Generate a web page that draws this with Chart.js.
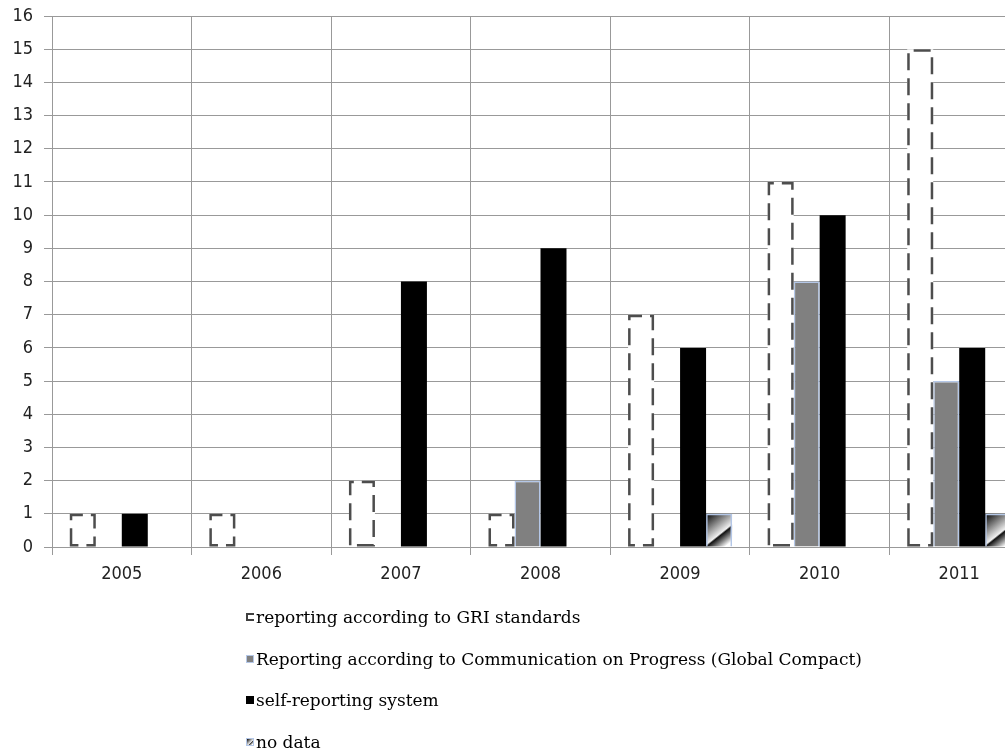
<!DOCTYPE html>
<html>
<head>
<meta charset="utf-8">
<script src="https://cdn.jsdelivr.net/npm/chart.js@4.4.0/dist/chart.umd.min.js"></script>
<style>
  html, body { margin: 0; padding: 0; overflow: hidden; background: #fff; }
  #wrap { position: relative; width: 1030px; height: 751px; }
  #legend { position: absolute; left: 246px; top: 596px; font-family: "DejaVu Serif", serif; font-size: 17px; color: #000; }
  #legend .item { height: 41.7px; display: flex; align-items: center; white-space: nowrap; }
  #legend .box { width: 8px; height: 8px; margin-right: 2px; box-sizing: border-box; }
</style>
</head>
<body>
<div id="wrap">
  <canvas id="chart"></canvas>
  <div id="legend"></div>
</div>
<script>
const years = ['2005', '2006', '2007', '2008', '2009', '2010', '2011'];
const seriesNames = [
  'reporting according to GRI standards',
  'Reporting according to Communication on Progress (Global Compact)',
  'self-reporting system',
  'no data'
];
const griReports = [1, 1, 2, 1, 7, 11, 15];
const copReports = [0, 0, 0, 2, 0, 8, 5];
const selfReports = [1, 0, 8, 9, 6, 10, 6];
const noData = [0, 0, 0, 0, 1, 0, 1];
const yTicks = [0, 16];

const edgeBlue = '#b4c7e7';

// dashed outline for GRI bars and the diagonal gradient for "no data"
const barStyler = {
  id: 'barStyler',
  beforeDatasetDraw(chart, args) {
    if (args.index !== 3) return;
    const ctx = chart.ctx;
    args.meta.data.forEach((bar, i) => {
      if (!noData[i]) return;
      const p = bar.getProps(['x', 'y', 'base', 'width'], true);
      const left = p.x - p.width / 2;
      const g = ctx.createLinearGradient(left, p.y, left + p.width, p.base);
      g.addColorStop(0, '#000');
      g.addColorStop(0.58, '#f0f0f0');
      g.addColorStop(0.62, '#111');
      g.addColorStop(0.9, '#fff');
      ctx.save();
      ctx.fillStyle = g;
      ctx.fillRect(left, p.y, p.width, p.base - p.y);
      ctx.restore();
    });
  },
  afterDatasetDraw(chart, args) {
    if (args.index !== 0) return;
    const ctx = chart.ctx;
    ctx.save();
    ctx.strokeStyle = '#4d4d4d';
    ctx.lineWidth = 2.5;
    ctx.setLineDash([17, 8]);
    args.meta.data.forEach((bar, i) => {
      if (!griReports[i]) return;
      const p = bar.getProps(['x', 'y', 'base', 'width'], true);
      const l = p.x - p.width / 2 + 1.25, r = p.x + p.width / 2 - 1.25;
      const t = p.y + 1.25, b = p.base - 1.25;
      ctx.beginPath();
      ctx.moveTo(l, b);
      ctx.lineTo(l, t);
      ctx.lineTo(r, t);
      ctx.lineTo(r, b);
      ctx.closePath();
      ctx.stroke();
    });
    ctx.restore();
  }
};

const tickFont = { family: '"DejaVu Sans Condensed", "DejaVu Sans", sans-serif', size: 18 };

const chart = new Chart(document.getElementById('chart'), {
  type: 'bar',
  data: {
    labels: years,
    datasets: [
      { label: seriesNames[0], data: griReports, backgroundColor: '#fff', borderWidth: 0 },
      { label: seriesNames[1], data: copReports, backgroundColor: '#808080',
        borderColor: edgeBlue, borderWidth: c => c.raw ? 1.5 : 0 },
      { label: seriesNames[2], data: selfReports, backgroundColor: '#000', borderWidth: 0 },
      { label: seriesNames[3], data: noData, backgroundColor: 'rgba(0,0,0,0)',
        borderColor: edgeBlue, borderWidth: c => c.raw ? 1.5 : 0 }
    ]
  },
  options: {
    responsive: true,
    maintainAspectRatio: false,
    animation: false,
    layout: { padding: { top: 16, right: 1, bottom: 164, left: 0 } },
    datasets: { bar: { categoryPercentage: 0.745, barPercentage: 1 } },
    plugins: { legend: { display: false }, tooltip: { enabled: false } },
    scales: {
      x: {
        grid: { color: '#999', tickLength: 8, offset: true },
        border: { color: '#999' },
        ticks: { font: tickFont, color: '#222', padding: 9 },
        afterFit: s => { s.height = 40; }
      },
      y: {
        min: yTicks[0],
        max: yTicks[1],
        grid: { color: '#999', tickLength: 8 },
        border: { color: '#999' },
        ticks: { stepSize: 1, font: tickFont, color: '#222', padding: 11 },
        afterFit: s => { s.width = 52; s.paddingTop = 0; s.paddingBottom = 0; }
      }
    }
  },
  plugins: [barStyler]
});

// html legend built from the datasets
const legendEl = document.getElementById('legend');
const boxStyles = [
  'border:2px solid #404040;border-right:none;background:#fff',
  'border:1px solid ' + edgeBlue + ';background:#808080',
  'background:#000',
  'border:1px solid ' + edgeBlue + ';background:linear-gradient(135deg,#000 0%,#eee 58%,#222 62%,#fff 90%)'
];
chart.data.datasets.forEach((ds, i) => {
  const item = document.createElement('div');
  item.className = 'item';
  const box = document.createElement('span');
  box.className = 'box';
  box.style.cssText = boxStyles[i];
  const txt = document.createElement('span');
  txt.textContent = ds.label;
  item.appendChild(box);
  item.appendChild(txt);
  legendEl.appendChild(item);
});
</script>
</body>
</html>
